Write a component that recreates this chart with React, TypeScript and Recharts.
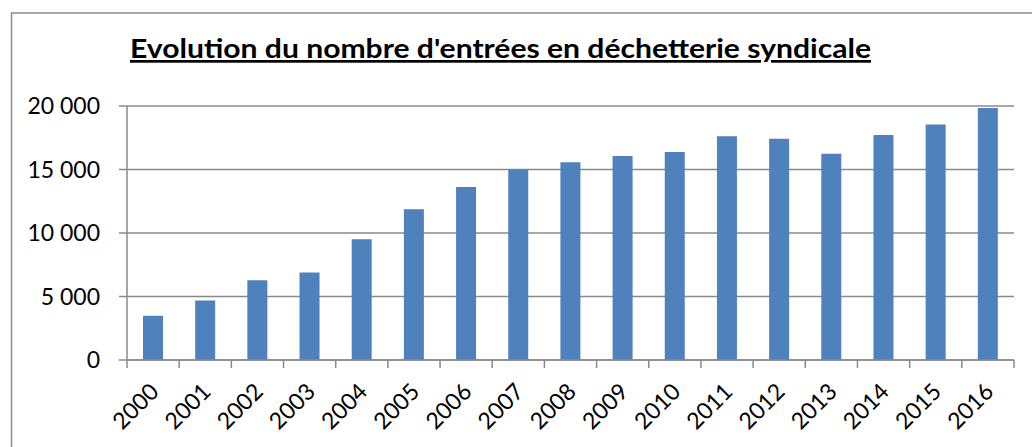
import React from 'react';
import { BarChart, Bar, XAxis, YAxis, CartesianGrid } from 'recharts';

const years = ['2000', '2001', '2002', '2003', '2004', '2005', '2006', '2007', '2008', '2009', '2010', '2011', '2012', '2013', '2014', '2015', '2016'];
const entries = [3480, 4680, 6280, 6880, 9500, 11870, 13620, 15000, 15570, 16060, 16380, 17610, 17430, 16250, 17720, 18540, 19850];
const yTicks = [0, 5000, 10000, 15000, 20000];
const title = "Evolution du nombre d'entrées en déchetterie syndicale";

const data = years.map((y, i) => ({ year: y, value: entries[i] }));

const W = 1032;
const H = 447;
const XAXIS_H = 60;
const MARGIN = { top: 106, right: 18, bottom: 87 - XAXIS_H, left: 0 };
const YAXIS_W = 127;
const PLOT_W = W - MARGIN.left - MARGIN.right - YAXIS_W;
const AXIS_COLOR = '#8a8a8a';
const FONT = 'Lato, "Open Sans", sans-serif';

const fmt = (n: number) => n.toString().replace(/\B(?=(\d{3})+(?!\d))/g, ' ');

const XTick = (props: any) => {
  const { x, y, payload, index } = props;
  const band = PLOT_W / years.length;
  const tx = x + 7;
  const ty = y + 33;
  return (
    <g>
      <line x1={x - band / 2} x2={x - band / 2} y1={y} y2={y + 8} stroke={AXIS_COLOR} strokeWidth={1.5} />
      {index === years.length - 1 && (
        <line x1={x + band / 2} x2={x + band / 2} y1={y} y2={y + 8} stroke={AXIS_COLOR} strokeWidth={1.5} />
      )}
      <text x={tx} y={ty} textAnchor="end" transform={`rotate(-45, ${tx}, ${ty})`} fontSize={23} fontFamily={FONT} fill="#000">
        {payload.value}
      </text>
    </g>
  );
};

export default function App() {
  return (
    <div style={{ position: 'absolute', left: 0, top: 0, width: W, height: H, background: '#fff' }}>
      <BarChart width={W} height={H} data={data} margin={MARGIN}>
        <CartesianGrid vertical={false} stroke={AXIS_COLOR} strokeWidth={1.5} />
        <XAxis
          dataKey="year"
          height={XAXIS_H}
          interval={0}
          tickLine={false}
          tickSize={0}
          tickMargin={0}
          stroke={AXIS_COLOR}
          strokeWidth={1.5}
          tick={<XTick />}
        />
        <YAxis
          width={YAXIS_W}
          domain={[0, 20000]}
          ticks={yTicks}
          tickFormatter={fmt}
          tickSize={8}
          tickMargin={19}
          stroke={AXIS_COLOR}
          strokeWidth={1.5}
          tick={{ fill: '#000', fontSize: 23, fontFamily: FONT }}
        />
        <Bar dataKey="value" fill="#4F81BD" barSize={20} isAnimationActive={false} />
      </BarChart>
      <svg width={W} height={H} style={{ position: 'absolute', left: 0, top: 0, pointerEvents: 'none' }}>
        <rect x={11.5} y={13} width={1040} height={460} fill="none" stroke="#8c8c8c" strokeWidth={1.5} />
        <text
          x={500.5}
          y={58}
          textAnchor="middle"
          fontSize={27}
          fontWeight="bold"
          fontFamily={FONT}
          textLength={741}
          lengthAdjust="spacingAndGlyphs"
          fill="#000"
          style={{ textDecoration: 'underline' }}
        >
          {title}
        </text>
      </svg>
    </div>
  );
}
